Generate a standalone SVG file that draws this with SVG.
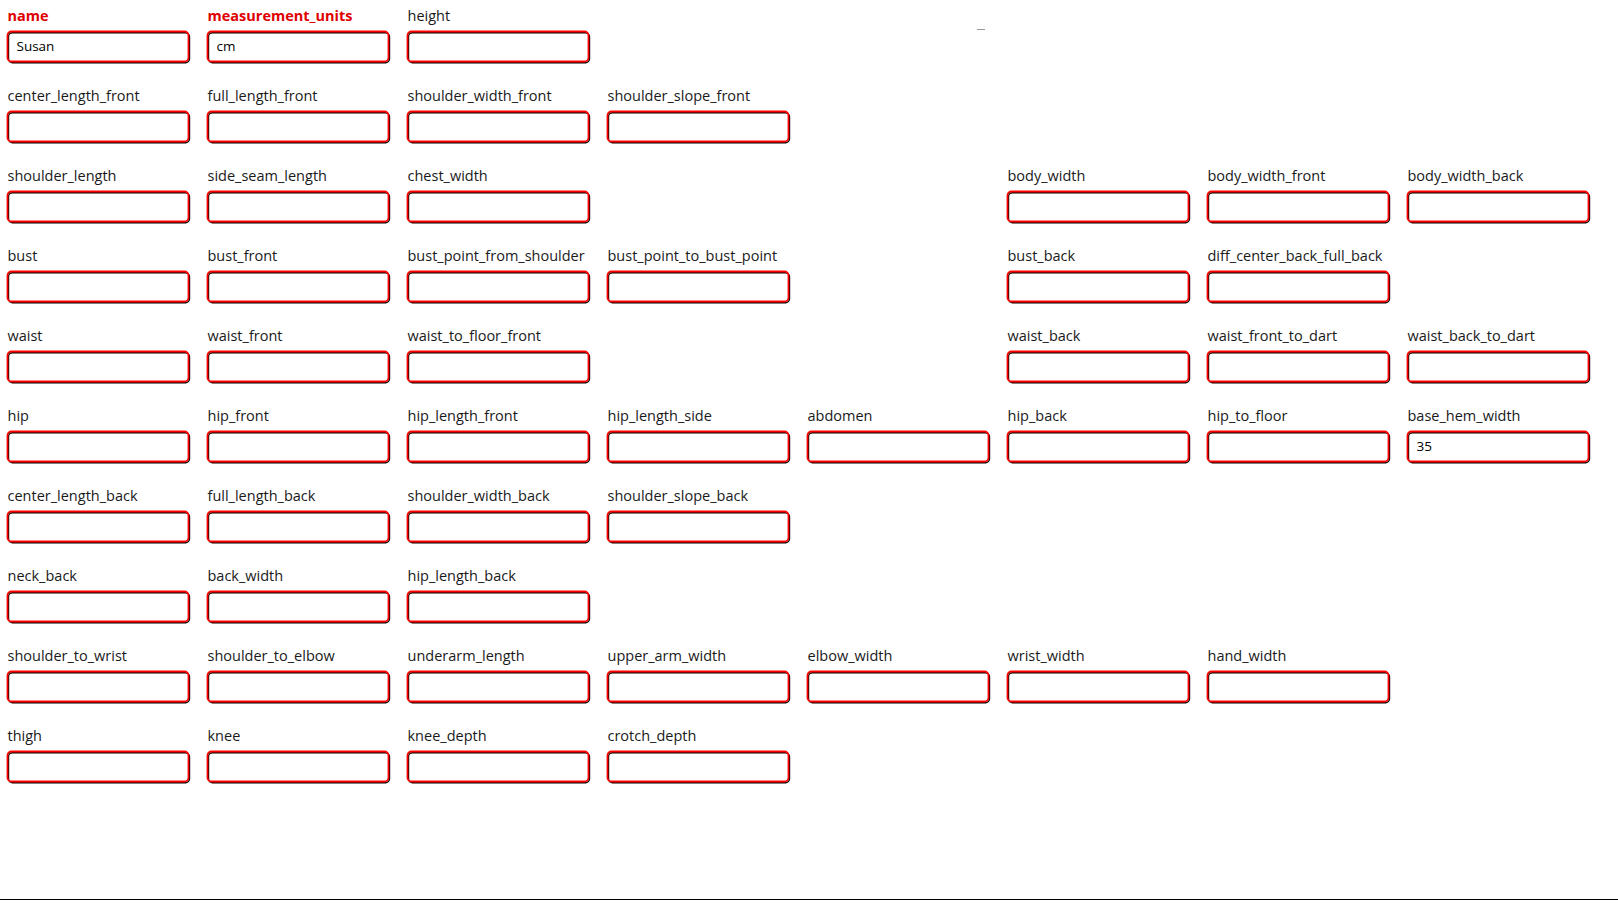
<svg xmlns="http://www.w3.org/2000/svg" width="1618" height="903" viewBox="0 0 1618 903">
<style>
text{font-family:"Open Sans","DejaVu Sans",sans-serif;font-size:14.5px;fill:#1a1a1a}
.lr{fill:#e00000;font-weight:bold}
.v{font-size:13.5px;fill:#000}
.bk{fill:none;stroke:#000;stroke-width:1.4}
.rd{fill:none;stroke:#f00;stroke-width:1.8}
</style>
<defs>
<g id="box"><rect class="bk" x="1" y="1.2" width="181" height="30" rx="4"/><rect class="rd" x="0" y="0" width="181" height="30" rx="4"/></g>
</defs>
<rect width="1618" height="903" fill="#fff"/>
<g id="connectors"/>
<line x1="977" y1="29.5" x2="985" y2="29.5" stroke="#999" stroke-width="1"/>
<line x1="0" y1="899.5" x2="1618" y2="899.5" stroke="#000" stroke-width="1"/>

<g id="f-name"><use href="#box" x="7.5" y="31.5"/><text class="lr" x="7.5" y="21">name</text><text class="v" x="16.5" y="51">Susan</text></g>
<g id="f-measurement_units"><use href="#box" x="207.5" y="31.5"/><text class="lr" x="207.5" y="21">measurement_units</text><text class="v" x="216.5" y="51">cm</text></g>
<g id="f-height"><use href="#box" x="407.5" y="31.5"/><text x="407.5" y="21">height</text></g>

<g id="f-center_length_front"><use href="#box" x="7.5" y="111.5"/><text x="7.5" y="101">center_length_front</text></g>
<g id="f-full_length_front"><use href="#box" x="207.5" y="111.5"/><text x="207.5" y="101">full_length_front</text></g>
<g id="f-shoulder_width_front"><use href="#box" x="407.5" y="111.5"/><text x="407.5" y="101">shoulder_width_front</text></g>
<g id="f-shoulder_slope_front"><use href="#box" x="607.5" y="111.5"/><text x="607.5" y="101">shoulder_slope_front</text></g>

<g id="f-shoulder_length"><use href="#box" x="7.5" y="191.5"/><text x="7.5" y="181">shoulder_length</text></g>
<g id="f-side_seam_length"><use href="#box" x="207.5" y="191.5"/><text x="207.5" y="181">side_seam_length</text></g>
<g id="f-chest_width"><use href="#box" x="407.5" y="191.5"/><text x="407.5" y="181">chest_width</text></g>
<g id="f-body_width"><use href="#box" x="1007.5" y="191.5"/><text x="1007.5" y="181">body_width</text></g>
<g id="f-body_width_front"><use href="#box" x="1207.5" y="191.5"/><text x="1207.5" y="181">body_width_front</text></g>
<g id="f-body_width_back"><use href="#box" x="1407.5" y="191.5"/><text x="1407.5" y="181">body_width_back</text></g>

<g id="f-bust"><use href="#box" x="7.5" y="271.5"/><text x="7.5" y="261">bust</text></g>
<g id="f-bust_front"><use href="#box" x="207.5" y="271.5"/><text x="207.5" y="261">bust_front</text></g>
<g id="f-bust_point_from_shoulder"><use href="#box" x="407.5" y="271.5"/><text x="407.5" y="261">bust_point_from_shoulder</text></g>
<g id="f-bust_point_to_bust_point"><use href="#box" x="607.5" y="271.5"/><text x="607.5" y="261">bust_point_to_bust_point</text></g>
<g id="f-bust_back"><use href="#box" x="1007.5" y="271.5"/><text x="1007.5" y="261">bust_back</text></g>
<g id="f-diff_center_back_full_back"><use href="#box" x="1207.5" y="271.5"/><text x="1207.5" y="261">diff_center_back_full_back</text></g>

<g id="f-waist"><use href="#box" x="7.5" y="351.5"/><text x="7.5" y="341">waist</text></g>
<g id="f-waist_front"><use href="#box" x="207.5" y="351.5"/><text x="207.5" y="341">waist_front</text></g>
<g id="f-waist_to_floor_front"><use href="#box" x="407.5" y="351.5"/><text x="407.5" y="341">waist_to_floor_front</text></g>
<g id="f-waist_back"><use href="#box" x="1007.5" y="351.5"/><text x="1007.5" y="341">waist_back</text></g>
<g id="f-waist_front_to_dart"><use href="#box" x="1207.5" y="351.5"/><text x="1207.5" y="341">waist_front_to_dart</text></g>
<g id="f-waist_back_to_dart"><use href="#box" x="1407.5" y="351.5"/><text x="1407.5" y="341">waist_back_to_dart</text></g>

<g id="f-hip"><use href="#box" x="7.5" y="431.5"/><text x="7.5" y="421">hip</text></g>
<g id="f-hip_front"><use href="#box" x="207.5" y="431.5"/><text x="207.5" y="421">hip_front</text></g>
<g id="f-hip_length_front"><use href="#box" x="407.5" y="431.5"/><text x="407.5" y="421">hip_length_front</text></g>
<g id="f-hip_length_side"><use href="#box" x="607.5" y="431.5"/><text x="607.5" y="421">hip_length_side</text></g>
<g id="f-abdomen"><use href="#box" x="807.5" y="431.5"/><text x="807.5" y="421">abdomen</text></g>
<g id="f-hip_back"><use href="#box" x="1007.5" y="431.5"/><text x="1007.5" y="421">hip_back</text></g>
<g id="f-hip_to_floor"><use href="#box" x="1207.5" y="431.5"/><text x="1207.5" y="421">hip_to_floor</text></g>
<g id="f-base_hem_width"><use href="#box" x="1407.5" y="431.5"/><text x="1407.5" y="421">base_hem_width</text><text class="v" x="1416.5" y="451">35</text></g>

<g id="f-center_length_back"><use href="#box" x="7.5" y="511.5"/><text x="7.5" y="501">center_length_back</text></g>
<g id="f-full_length_back"><use href="#box" x="207.5" y="511.5"/><text x="207.5" y="501">full_length_back</text></g>
<g id="f-shoulder_width_back"><use href="#box" x="407.5" y="511.5"/><text x="407.5" y="501">shoulder_width_back</text></g>
<g id="f-shoulder_slope_back"><use href="#box" x="607.5" y="511.5"/><text x="607.5" y="501">shoulder_slope_back</text></g>

<g id="f-neck_back"><use href="#box" x="7.5" y="591.5"/><text x="7.5" y="581">neck_back</text></g>
<g id="f-back_width"><use href="#box" x="207.5" y="591.5"/><text x="207.5" y="581">back_width</text></g>
<g id="f-hip_length_back"><use href="#box" x="407.5" y="591.5"/><text x="407.5" y="581">hip_length_back</text></g>

<g id="f-shoulder_to_wrist"><use href="#box" x="7.5" y="671.5"/><text x="7.5" y="661">shoulder_to_wrist</text></g>
<g id="f-shoulder_to_elbow"><use href="#box" x="207.5" y="671.5"/><text x="207.5" y="661">shoulder_to_elbow</text></g>
<g id="f-underarm_length"><use href="#box" x="407.5" y="671.5"/><text x="407.5" y="661">underarm_length</text></g>
<g id="f-upper_arm_width"><use href="#box" x="607.5" y="671.5"/><text x="607.5" y="661">upper_arm_width</text></g>
<g id="f-elbow_width"><use href="#box" x="807.5" y="671.5"/><text x="807.5" y="661">elbow_width</text></g>
<g id="f-wrist_width"><use href="#box" x="1007.5" y="671.5"/><text x="1007.5" y="661">wrist_width</text></g>
<g id="f-hand_width"><use href="#box" x="1207.5" y="671.5"/><text x="1207.5" y="661">hand_width</text></g>

<g id="f-thigh"><use href="#box" x="7.5" y="751.5"/><text x="7.5" y="741">thigh</text></g>
<g id="f-knee"><use href="#box" x="207.5" y="751.5"/><text x="207.5" y="741">knee</text></g>
<g id="f-knee_depth"><use href="#box" x="407.5" y="751.5"/><text x="407.5" y="741">knee_depth</text></g>
<g id="f-crotch_depth"><use href="#box" x="607.5" y="751.5"/><text x="607.5" y="741">crotch_depth</text></g>
</svg>
